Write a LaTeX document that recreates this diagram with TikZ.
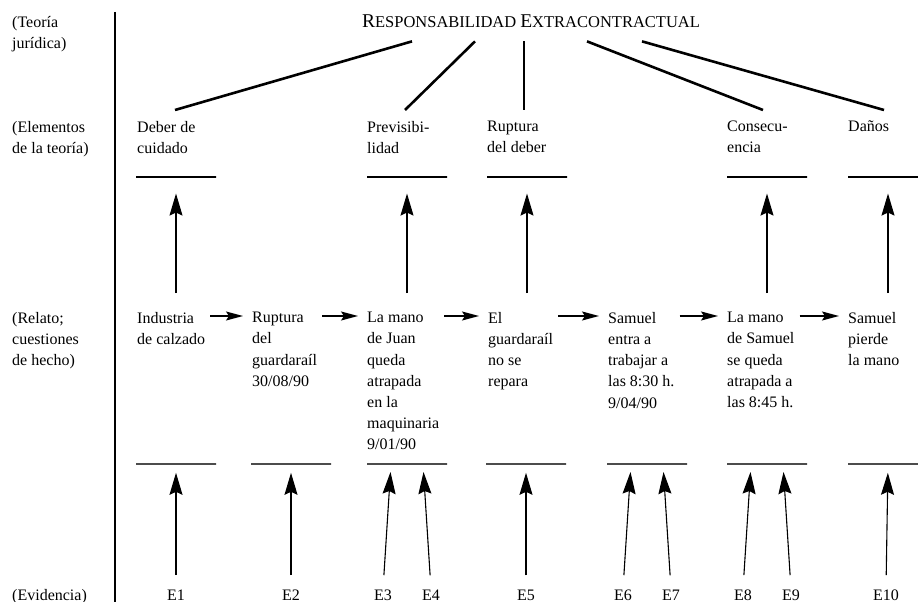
\documentclass[tikz,border=0pt]{standalone}
\usepackage{fontspec}
\setmainfont{Liberation Serif}
\usetikzlibrary{arrows.meta,calc}
\newcommand{\fsc}[2]{{\fontsize{19.5}{20}\selectfont #1}{\fontsize{16.5}{18}\selectfont #2}}

\begin{document}
\begin{tikzpicture}[x=1pt,y=-1pt,
	txt/.style={font=\fontsize{16}{21.2}\selectfont, inner sep=0pt, align=left, anchor=north west},
	ev/.style={font=\fontsize{16}{21.2}\selectfont, inner sep=0pt, anchor=base},
	treeline/.style={line width=2.6pt},
	ebar/.style={draw, line width=1.1pt, minimum width=80pt, minimum height=0pt, inner sep=0pt},
	bbar/.style={draw=black!70, line width=1.6pt, minimum width=80pt, minimum height=0pt, inner sep=0pt},
	uparrow/.style={-{Stealth[length=22pt,width=13pt,inset=3pt]}, line width=1.1pt, shorten <=19pt, shorten >=16pt},
	evarrow/.style={uparrow, shorten <=14pt, shorten >=8pt},
	flow/.style={-{Stealth[length=17pt,width=9pt,inset=3pt]}, line width=1.5pt, shorten <=5pt, shorten >=9pt}]
		\useasboundingbox (0,0) rectangle (918,602);
		% left column
		\node[txt] (teoria) at (12,16) {(Teoría\\jurídica)};
		\node[txt] (elem)   at (12,121) {(Elementos\\de la teoría)};
		\node[txt] (relato) at (12,312) {(Relato;\\cuestiones\\de hecho)};
		\node[ev, anchor=base west] (evid) at (12,600) {(Evidencia)};
		\draw[line width=2.5pt] (115,12) -- (115,602);
		% theory
		\node[font=\fontsize{16}{18}\selectfont, inner sep=0pt, anchor=base] (resp) at (531,28) {\fsc{R}{ESPONSABILIDAD} \fsc{E}{XTRACONTRACTUAL}};
		% elements
		\node[txt] (deber)   at (137,121) {Deber de\\cuidado};
		\node[txt] (previs)  at (367,121) {Previsibi-\\lidad};
		\node[txt] (ruptura) at (487,121) {Ruptura\\del deber};
		\node[txt] (consec)  at (727,121) {Consecu-\\encia};
		\node[txt] (danos)   at (848,121) {Daños};
		\draw[treeline] ([xshift=-119pt,yshift=-13pt]resp.south) -- ($(deber.north west)+(38,-11)$);
		\draw[treeline] ([xshift=-56pt,yshift=-13pt]resp.south) -- ($(previs.north west)+(38,-11)$);
		\draw[treeline] ([xshift=-7pt,yshift=-13pt]resp.south) -- ($(ruptura.north west)+(37,-11)$);
		\draw[treeline] ([xshift=56pt,yshift=-13pt]resp.south) -- ($(consec.north west)+(36,-11)$);
		\draw[treeline] ([xshift=111pt,yshift=-13pt]resp.south) -- ($(danos.north west)+(36,-11)$);
		\node[ebar] (eb1) at (176,177) {};
		\node[ebar] (eb2) at (407,177) {};
		\node[ebar] (eb3) at (527,177) {};
		\node[ebar] (eb4) at (767,177) {};
		\node[ebar] (eb5) at (888,177) {};
		% story
		\node[txt] (s1) at (137,312) {Industria\\de calzado};
		\node[txt] (s2) at (252,312) {Ruptura\\del\\guardaraíl\\30/08/90};
		\node[txt] (s3) at (367,312) {La mano\\de Juan\\queda\\atrapada\\en la\\maquinaria\\9/01/90};
		\node[txt] (s4) at (488,312) {El\\guardaraíl\\no se\\repara};
		\node[txt] (s5) at (608,312) {Samuel\\entra a\\trabajar a\\las 8:30 h.\\9/04/90};
		\node[txt] (s6) at (727,312) {La mano\\de Samuel\\se queda\\atrapada a\\las 8:45 h.};
		\node[txt] (s7) at (848,312) {Samuel\\pierde\\la mano};
		\coordinate (row) at (0,316);
		\draw[flow] (s1.east |- row) -- (s2.west |- row);
		\draw[flow] (s2.east |- row) -- (s3.west |- row);
		\draw[flow] (s3.east |- row) -- (s4.west |- row);
		\draw[flow] (s4.east |- row) -- (s5.west |- row);
		\draw[flow] (s5.east |- row) -- (s6.west |- row);
		\draw[flow] (s6.east |- row) -- (s7.west |- row);
		\draw[uparrow] (eb1 |- s1.north) -- (eb1);
		\draw[uparrow] (eb2 |- s3.north) -- (eb2);
		\draw[uparrow] (eb3 |- s4.north) -- (eb3);
		\draw[uparrow] (eb4 |- s6.north) -- (eb4);
		\draw[uparrow] (eb5 |- s7.north) -- (eb5);
		% evidence
		\node[bbar] (bb1) at (176,464) {};
		\node[bbar] (bb2) at (291,464) {};
		\node[bbar] (bb3) at (407,464) {};
		\node[bbar] (bb4) at (526,464) {};
		\node[bbar] (bb5) at (647,464) {};
		\node[bbar] (bb6) at (767,464) {};
		\node[bbar] (bb7) at (888,464) {};
		\node[ev] (e1)  at (176,600) {E1};
		\node[ev] (e2)  at (291,600) {E2};
		\node[ev] (e3)  at (383,600) {E3};
		\node[ev] (e4)  at (431,600) {E4};
		\node[ev] (e5)  at (526,600) {E5};
		\node[ev] (e6)  at (623,600) {E6};
		\node[ev] (e7)  at (671,600) {E7};
		\node[ev] (e8)  at (743,600) {E8};
		\node[ev] (e9)  at (791,600) {E9};
		\node[ev] (e10) at (886,600) {E10};
		\draw[evarrow] (e1.north) -- (bb1);
		\draw[evarrow] (e2.north) -- (bb2);
		\draw[evarrow] (e3.north) -- ([xshift=-16pt]bb3.center);
		\draw[evarrow] (e4.north) -- ([xshift=16pt]bb3.center);
		\draw[evarrow] (e5.north) -- (bb4);
		\draw[evarrow] (e6.north) -- ([xshift=-16pt]bb5.center);
		\draw[evarrow] (e7.north) -- ([xshift=16pt]bb5.center);
		\draw[evarrow] (e8.north) -- ([xshift=-16pt]bb6.center);
		\draw[evarrow] (e9.north) -- ([xshift=16pt]bb6.center);
		\draw[evarrow] (e10.north) -- (bb7);
	\end{tikzpicture}
\end{document}
